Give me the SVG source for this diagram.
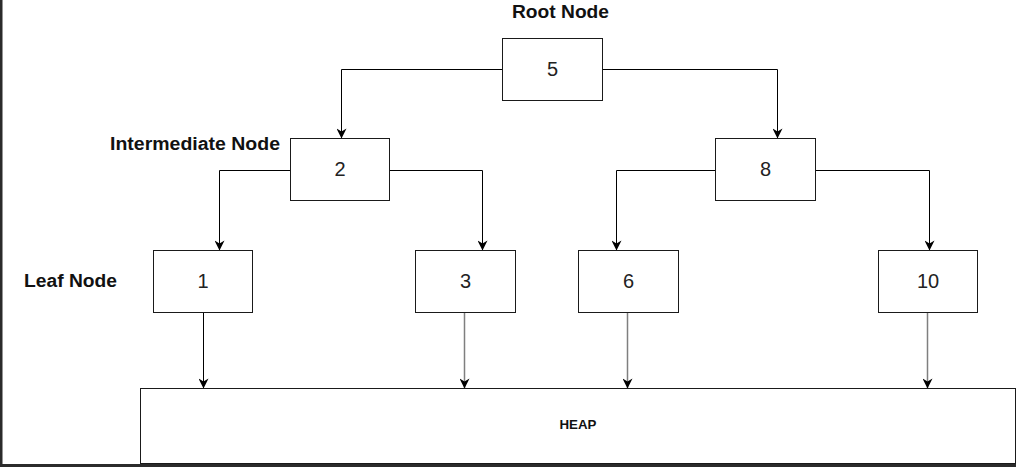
<svg xmlns="http://www.w3.org/2000/svg" width="1016" height="467" viewBox="0 0 1016 467">
  <style>
    .box { fill: #ffffff; stroke: #1a1a1a; stroke-width: 1; }
    .num { font-family: "Liberation Sans", Arial, sans-serif; font-size: 20px; fill: #222222; text-anchor: middle; }
    .lbl { font-family: "Liberation Sans", Arial, sans-serif; font-size: 18px; font-weight: bold; fill: #111111; }
    .heap { font-family: "Liberation Sans", Arial, sans-serif; font-size: 12px; font-weight: bold; fill: #111111; text-anchor: middle; }
    .edge { fill: none; stroke: #000000; stroke-width: 1; marker-end: url(#arrow); }
    .edge.gray { stroke: #7f7f7f; stroke-width: 1.5; }
  </style>
  <defs>
    <marker id="arrow" markerUnits="userSpaceOnUse" viewBox="0 0 10 10" refX="10" refY="5" markerWidth="12" markerHeight="10" orient="auto">
      <path d="M0,0 L10,5 L0,10 L3,5 z" fill="#000000"/>
    </marker>
  </defs>
  <rect x="0" y="0" width="1016" height="467" fill="#ffffff"/>
  <rect x="0" y="0" width="2.5" height="467" fill="#2b2b2b"/>
  <rect x="0" y="464" width="1016" height="3" fill="#2b2b2b"/>

  <g id="connectors">
    <path class="edge" d="M502.5,69.5 H341.5 V138.5"/>
    <path class="edge" d="M602.5,69.5 H777.5 V138.5"/>
    <path class="edge" d="M290.5,170.5 H219.5 V250.5"/>
    <path class="edge" d="M389.5,170.5 H482.5 V250.5"/>
    <path class="edge" d="M715.5,170.5 H616.5 V250.5"/>
    <path class="edge" d="M815.5,170.5 H929.5 V250.5"/>
    <path class="edge" d="M203.5,312.5 V388.5"/>
    <path class="edge gray" d="M464.5,312.5 V388.5"/>
    <path class="edge gray" d="M627.5,312.5 V388.5"/>
    <path class="edge gray" d="M927.5,312.5 V388.5"/>
  </g>

  <g id="label-root"><text class="lbl" x="512" y="18" textLength="97" lengthAdjust="spacingAndGlyphs">Root Node</text></g>
  <g id="label-intermediate"><text class="lbl" x="110" y="150" textLength="170" lengthAdjust="spacingAndGlyphs">Intermediate Node</text></g>
  <g id="label-leaf"><text class="lbl" x="24" y="287" textLength="93" lengthAdjust="spacingAndGlyphs">Leaf Node</text></g>

  <g id="node-5"><rect class="box" x="502.5" y="38.5" width="100" height="62"/><text class="num" x="552.5" y="76">5</text></g>
  <g id="node-2"><rect class="box" x="290.5" y="138.5" width="99" height="62"/><text class="num" x="340" y="176">2</text></g>
  <g id="node-8"><rect class="box" x="715.5" y="138.5" width="100" height="62"/><text class="num" x="765.5" y="176">8</text></g>
  <g id="node-1"><rect class="box" x="153.5" y="250.5" width="99" height="62"/><text class="num" x="203" y="288">1</text></g>
  <g id="node-3"><rect class="box" x="415.5" y="250.5" width="100" height="62"/><text class="num" x="465.5" y="288">3</text></g>
  <g id="node-6"><rect class="box" x="578.5" y="250.5" width="100" height="62"/><text class="num" x="628.5" y="288">6</text></g>
  <g id="node-10"><rect class="box" x="878.5" y="250.5" width="99" height="62"/><text class="num" x="928" y="288">10</text></g>
  <g id="node-heap"><rect class="box" x="140.5" y="388.5" width="875" height="75"/><text class="heap" x="578" y="429" textLength="37" lengthAdjust="spacingAndGlyphs">HEAP</text></g>
</svg>
